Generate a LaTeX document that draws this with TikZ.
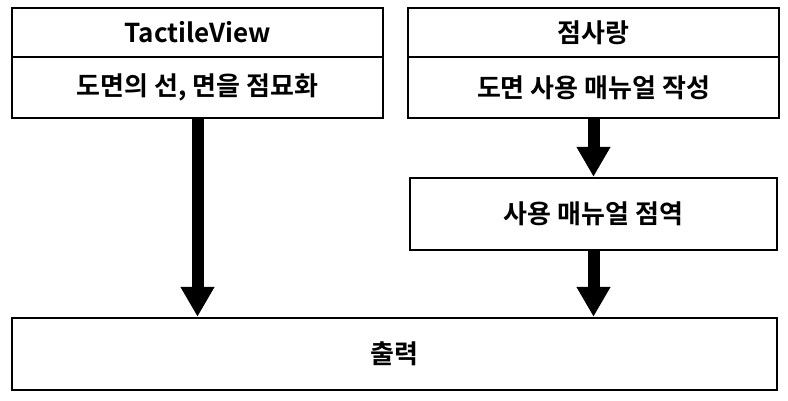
\documentclass[tikz,border=0pt]{standalone}
\usepackage{fontspec}
\setmainfont{Noto Sans CJK KR}[BoldFont={Noto Sans CJK KR Bold}]
\usetikzlibrary{arrows.meta,positioning}

\begin{document}
\begin{tikzpicture}[x=0.5pt, y=-0.5pt, every node/.style={font=\fontsize{13}{15}\selectfont\bfseries}]
            \useasboundingbox (0,0) rectangle (788,401);
            \tikzset{box/.style={draw, line width=1.2pt, inner sep=0pt, minimum width=185.5pt},
                     bigarrow/.style={-{Triangle[length=15pt,width=16pt]}, line width=6pt}}
            \node[box, minimum height=24.5pt] (tactile) at (197.5,32.5) {TactileView};
            \node[box, minimum height=30.5pt] (dots) at (197.5,87.5) {도면의 선, 면을 점묘화};
            \node[box, minimum height=24.5pt] (jeom) at (593.5,32.5) {점사랑};
            \node[box, minimum height=30.5pt] (manual) at (593.5,87.5) {도면 사용 매뉴얼 작성};
            \node[box, minimum height=36pt, minimum width=183.5pt] (trans) at (593.5,214) {사용 매뉴얼 점역};
            \node[box, minimum height=36pt, minimum width=382.5pt] (out) at (394.5,354) {출력};
            
            \draw[bigarrow] (dots.south) -- (dots.south |- out.north);
            \draw[bigarrow] (manual) -- (trans);
            \draw[bigarrow] (trans) -- (trans |- out.north);
        \end{tikzpicture}
\end{document}
